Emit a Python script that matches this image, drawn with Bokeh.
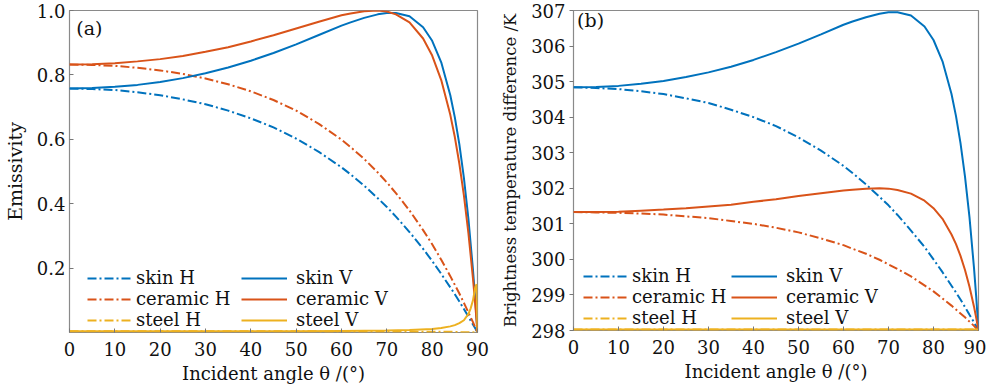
from bokeh.plotting import figure
from bokeh.layouts import row
from bokeh.models import Legend, LegendItem, Label, FixedTicker, NumeralTickFormatter, Range1d
from bokeh.embed import file_html
from bokeh.resources import INLINE

# ---------------- data ----------------
angle = [0, 5, 10, 15, 20, 25, 30, 35, 40, 45, 50, 55, 60, 62, 65, 68, 70, 72, 75, 78,
         80, 82, 84, 85, 86, 87, 88, 89, 89.5, 90]

skin_h = [0.758, 0.756, 0.753, 0.746, 0.737, 0.724, 0.709, 0.689, 0.665, 0.637, 0.602, 0.561,
          0.513, 0.491, 0.456, 0.417, 0.390, 0.360, 0.312, 0.260, 0.222, 0.182, 0.140, 0.119,
          0.096, 0.073, 0.049, 0.025, 0.013, 0.0]
skin_v = [0.758, 0.759, 0.763, 0.769, 0.778, 0.790, 0.805, 0.823, 0.844, 0.868, 0.895, 0.924,
          0.953, 0.963, 0.977, 0.988, 0.992, 0.992, 0.982, 0.948, 0.906, 0.839, 0.737, 0.668,
          0.584, 0.480, 0.352, 0.195, 0.103, 0.0]
ceramic_h = [0.832, 0.831, 0.828, 0.822, 0.814, 0.803, 0.789, 0.771, 0.749, 0.722, 0.689, 0.648,
             0.599, 0.576, 0.539, 0.497, 0.466, 0.433, 0.379, 0.318, 0.274, 0.226, 0.175, 0.148,
             0.121, 0.092, 0.062, 0.032, 0.016, 0.0]
ceramic_v = [0.832, 0.833, 0.836, 0.842, 0.849, 0.859, 0.872, 0.886, 0.904, 0.923, 0.944, 0.965,
             0.985, 0.991, 0.998, 1.000, 0.997, 0.988, 0.963, 0.913, 0.860, 0.784, 0.676, 0.607,
             0.524, 0.426, 0.308, 0.168, 0.088, 0.0]

steel_angle = [0, 10, 20, 30, 40, 50, 60, 70, 75, 80, 82, 84, 85, 86, 87, 88, 88.5, 89, 89.5, 89.8, 90]
steel_h = [0.004, 0.004, 0.004, 0.004, 0.004, 0.004, 0.003, 0.003, 0.003, 0.002, 0.002, 0.002,
           0.002, 0.001, 0.001, 0.001, 0.001, 0.001, 0.0, 0.0, 0.0]
steel_v = [0.004, 0.004, 0.004, 0.004, 0.004, 0.004, 0.005, 0.006, 0.008, 0.011, 0.014, 0.019,
           0.023, 0.029, 0.038, 0.058, 0.075, 0.100, 0.140, 0.150, 0.0]

tb_skin_h = [304.84, 304.82, 304.79, 304.73, 304.65, 304.53, 304.40, 304.21, 304.00, 303.75,
             303.43, 303.06, 302.63, 302.43, 302.11, 301.76, 301.52, 301.25, 300.81, 300.35,
             300.00, 299.64, 299.26, 299.07, 298.87, 298.66, 298.44, 298.23, 298.12, 298.0]
tb_skin_v = [304.84, 304.85, 304.88, 304.94, 305.02, 305.13, 305.26, 305.42, 305.61, 305.83,
             306.07, 306.33, 306.60, 306.69, 306.81, 306.91, 306.95, 306.95, 306.86, 306.55,
             306.17, 305.57, 304.65, 304.03, 303.27, 302.33, 301.18, 299.76, 298.93, 298.0]
tb_ceramic_h = [301.33, 301.32, 301.31, 301.29, 301.26, 301.21, 301.16, 301.08, 301.00, 300.89,
                300.76, 300.59, 300.40, 300.30, 300.16, 299.99, 299.86, 299.73, 299.52, 299.27,
                299.10, 298.90, 298.70, 298.59, 298.48, 298.37, 298.25, 298.13, 298.06, 298.0]
tb_ceramic_v = [301.33, 301.33, 301.34, 301.37, 301.40, 301.44, 301.49, 301.54, 301.62, 301.69,
                301.78, 301.86, 301.94, 301.96, 301.99, 302.00, 301.99, 301.95, 301.85, 301.65,
                301.44, 301.14, 300.70, 300.43, 300.10, 299.70, 299.23, 298.67, 298.35, 298.0]
tb_steel_h = [298.03] * (len(steel_angle) - 1) + [298.0]
tb_steel_v = [298.03] * (len(steel_angle) - 1) + [298.0]

x_ticks = [0, 10, 20, 30, 40, 50, 60, 70, 80, 90]
y1_ticks = [0.2, 0.4, 0.6, 0.8, 1.0]
y2_ticks = [298, 299, 300, 301, 302, 303, 304, 305, 306, 307]

BLUE = "#0072BD"
RED = "#D95319"
YELLOW = "#EDB120"
FONT = "DejaVu Serif"
TXT = "#111111"
DASH = "9 3 2 3"
LW = 2.0


def style(p, y_ticks, yfmt, ytick_in, ylabel_size):
    p.xaxis.ticker = FixedTicker(ticks=x_ticks)
    p.yaxis.ticker = FixedTicker(ticks=y_ticks)
    if yfmt:
        p.yaxis.formatter = NumeralTickFormatter(format=yfmt)
    p.xgrid.visible = False
    p.ygrid.visible = False
    for ax in (p.xaxis[0], p.yaxis[0]):
        ax.axis_line_color = None
        ax.major_tick_line_color = "#777777"
        ax.minor_tick_line_color = None
        ax.major_label_text_font = FONT
        ax.major_label_text_font_size = "18px"
        ax.major_label_text_color = TXT
        ax.axis_label_text_font = FONT
        ax.axis_label_text_font_size = "18px"
        ax.axis_label_text_font_style = "normal"
        ax.axis_label_text_color = TXT
    p.yaxis.axis_label_text_font_size = ylabel_size
    p.xaxis.major_tick_in = 4
    p.xaxis.major_tick_out = 0
    p.xaxis.major_label_standoff = 9
    p.xaxis.axis_label_standoff = 4
    if ytick_in:
        p.yaxis.major_tick_in = 4
        p.yaxis.major_tick_out = 0
    else:
        p.yaxis.major_tick_in = 0
        p.yaxis.major_tick_out = 4
    p.yaxis.major_label_standoff = 4
    p.yaxis.axis_label_standoff = 8
    p.outline_line_color = "#8a8a8a"
    p.outline_line_width = 1.2
    p.background_fill_color = "white"
    p.border_fill_color = "white"


def add_lines(p, xs, h1, v1, h2, v2, sx, h3, v3, leg1_xy, leg2_xy):
    r_sh = p.line(xs, h1, color=BLUE, line_width=LW, line_dash=DASH)
    r_ch = p.line(xs, h2, color=RED, line_width=LW, line_dash=DASH)
    r_th = p.line(sx, h3, color=YELLOW, line_width=LW, line_dash=DASH)
    r_sv = p.line(xs, v1, color=BLUE, line_width=LW)
    r_cv = p.line(xs, v2, color=RED, line_width=LW)
    r_tv = p.line(sx, v3, color=YELLOW, line_width=LW)
    for items, xy, standoff in (
        ([("skin H", r_sh), ("ceramic H", r_ch), ("steel H", r_th)], leg1_xy, 3),
        ([("skin V", r_sv), ("ceramic V", r_cv), ("steel V", r_tv)], leg2_xy, 9),
    ):
        leg = Legend(items=[LegendItem(label=l, renderers=[r]) for l, r in items],
                     location=xy, orientation="vertical")
        leg.background_fill_alpha = 0
        leg.border_line_color = None
        leg.label_text_font = FONT
        leg.label_text_font_size = "18px"
        leg.label_text_color = TXT
        leg.glyph_width = 46
        leg.glyph_height = 16
        leg.label_height = 16
        leg.spacing = 0
        leg.padding = 0
        leg.margin = 0
        leg.label_standoff = standoff
        p.add_layout(leg)


# ---------------- panel (a) ----------------
p1 = figure(frame_width=408, frame_height=322, x_range=Range1d(0, 90), y_range=Range1d(0, 1),
            output_backend="svg", toolbar_location=None,
            min_border_left=60, min_border_right=14, min_border_top=10, min_border_bottom=40,
            x_axis_label="Incident angle θ /(°)", y_axis_label="Emissivity")
style(p1, y1_ticks, "0.0", True, "19px")
add_lines(p1, angle, skin_h, skin_v, ceramic_h, ceramic_v, steel_angle, steel_h, steel_v,
          (18, 2), (172, 2))
p1.add_layout(Label(x=1.5, y=0.947, text="(a)", text_font=FONT, text_font_size="19px",
                    text_color=TXT, text_baseline="middle"))

# ---------------- panel (b) ----------------
p2 = figure(frame_width=405, frame_height=320, x_range=Range1d(0, 90), y_range=Range1d(298, 307),
            output_backend="svg", toolbar_location=None,
            min_border_left=82, min_border_right=8, min_border_top=10, min_border_bottom=42,
            x_axis_label="Incident angle θ /(°)", y_axis_label="Brightness temperature difference /K")
style(p2, y2_ticks, None, False, "16.5px")
add_lines(p2, angle, tb_skin_h, tb_skin_v, tb_ceramic_h, tb_ceramic_v, steel_angle,
          tb_steel_h, tb_steel_v, (10, 2), (158, 2))
p2.add_layout(Label(x=0.8, y=306.72, text="(b)", text_font=FONT, text_font_size="19px",
                    text_color=TXT, text_baseline="middle"))

layout = row(p1, p2, spacing=0)
open("out.html", "w").write(file_html(layout, INLINE))
